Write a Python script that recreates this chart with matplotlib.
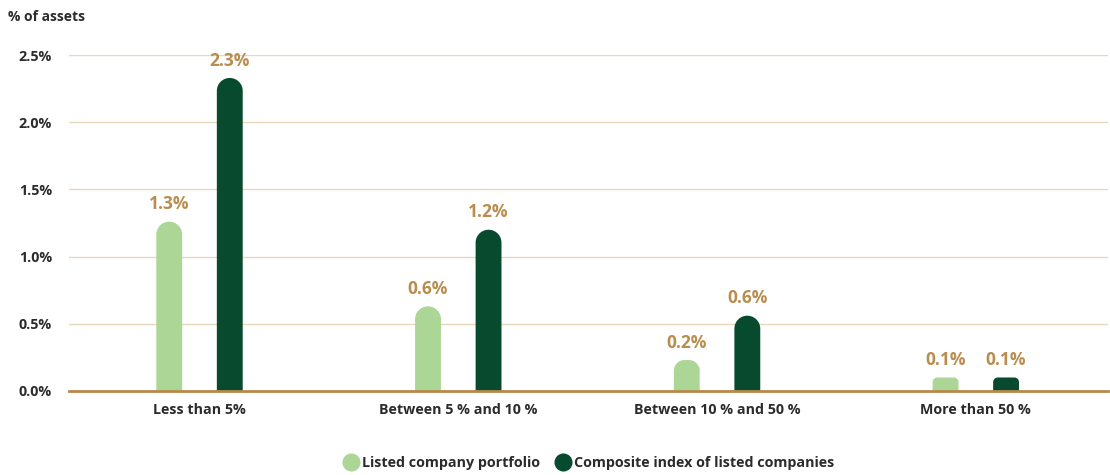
import matplotlib.pyplot as plt
from matplotlib.path import Path
from matplotlib.patches import PathPatch
from matplotlib.lines import Line2D
import numpy as np

plt.rcParams["font.family"] = ["Open Sans", "DejaVu Sans"]

categories = ["Less than 5%", "Between 5 % and 10 %", "Between 10 % and 50 %", "More than 50 %"]
portfolio = [1.26, 0.63, 0.23, 0.10]
composite = [2.33, 1.20, 0.56, 0.10]
portfolio_labels = ["1.3%", "0.6%", "0.2%", "0.1%"]
composite_labels = ["2.3%", "1.2%", "0.6%", "0.1%"]

LIGHT = "#acd696"
DARK = "#074a2e"
GOLD = "#b98d4e"
TEXT = "#2b2b2b"


def rounded_bar(ax, xc, height, width, color):
    # rounded top, radius in pixels limited by height
    fig = ax.figure
    fig.canvas.draw()
    bbox = ax.get_window_extent()
    x0, x1 = ax.get_xlim()
    y0, y1 = ax.get_ylim()
    px_x = bbox.width / (x1 - x0)
    px_y = bbox.height / (y1 - y0)
    half_px = width * px_x / 2
    r_px = min(half_px, height * px_y * 0.35)
    rx = r_px / px_x
    ry = r_px / px_y
    left, right = xc - width / 2, xc + width / 2
    t = np.linspace(0, np.pi / 2, 20)
    verts = [(left, 0), (right, 0), (right, height - ry)]
    verts += [(right - rx + rx * np.cos(a), height - ry + ry * np.sin(a)) for a in t]
    verts += [(left + rx - rx * np.cos(a), height - ry + ry * np.sin(a)) for a in t[::-1]]
    verts += [(left, 0)]
    codes = [Path.MOVETO] + [Path.LINETO] * (len(verts) - 2) + [Path.CLOSEPOLY]
    ax.add_patch(PathPatch(Path(verts, codes), facecolor=color, edgecolor="none", zorder=3))


fig = plt.figure(figsize=(11.1, 4.75), dpi=100)
ax = fig.add_axes([0.062, 0.177, 0.936, 0.707])
ax.set_xlim(-0.505, 3.51)
ax.set_ylim(0, 2.5)

x = np.arange(len(categories))
bw = 0.1
off = 0.117

for i in range(len(categories)):
    rounded_bar(ax, x[i] - off, portfolio[i], bw, LIGHT)
    rounded_bar(ax, x[i] + off, composite[i], bw, DARK)
    ax.annotate(portfolio_labels[i], (x[i] - off, portfolio[i]), xytext=(0, 6),
                textcoords="offset points", ha="center", va="bottom",
                color=GOLD, fontsize=12.5, fontweight="bold")
    ax.annotate(composite_labels[i], (x[i] + off, composite[i]), xytext=(0, 6),
                textcoords="offset points", ha="center", va="bottom",
                color=GOLD, fontsize=12.5, fontweight="bold")

ax.set_yticks([0, 0.5, 1.0, 1.5, 2.0, 2.5])
ax.set_yticklabels(["0.0%", "0.5%", "1.0%", "1.5%", "2.0%", "2.5%"])
ax.set_xticks(x)
ax.set_xticklabels(categories)
for lab in ax.get_xticklabels() + ax.get_yticklabels():
    lab.set_fontweight("bold")
    lab.set_color(TEXT)
    lab.set_fontsize(10.3)
ax.tick_params(axis="both", length=0)
ax.tick_params(axis="y", pad=12)
ax.tick_params(axis="x", pad=9)

ax.grid(axis="y", color="#e6d8bd", linewidth=1, zorder=0)
ax.set_axisbelow(True)
for s in ["top", "right", "left"]:
    ax.spines[s].set_visible(False)
ax.spines["bottom"].set_color("#b8894a")
ax.spines["bottom"].set_linewidth(2)
ax.spines["bottom"].set_zorder(4)

fig.text(0.007, 0.965, "% of assets", ha="left", va="center",
         fontsize=10, fontweight="bold", color=TEXT)

handles = [
    Line2D([], [], marker="o", linestyle="none", markersize=12, color=LIGHT),
    Line2D([], [], marker="o", linestyle="none", markersize=12, color=DARK),
]
leg = fig.legend(handles, ["Listed company portfolio", "Composite index of listed companies"],
                 loc="center", bbox_to_anchor=(0.53, 0.025), ncol=2, frameon=False,
                 handletextpad=0.2, columnspacing=1.0, handlelength=1.2,
                 prop={"weight": "bold", "size": 10.3})
for t in leg.get_texts():
    t.set_color(TEXT)

fig.savefig("out.png", dpi=100)
